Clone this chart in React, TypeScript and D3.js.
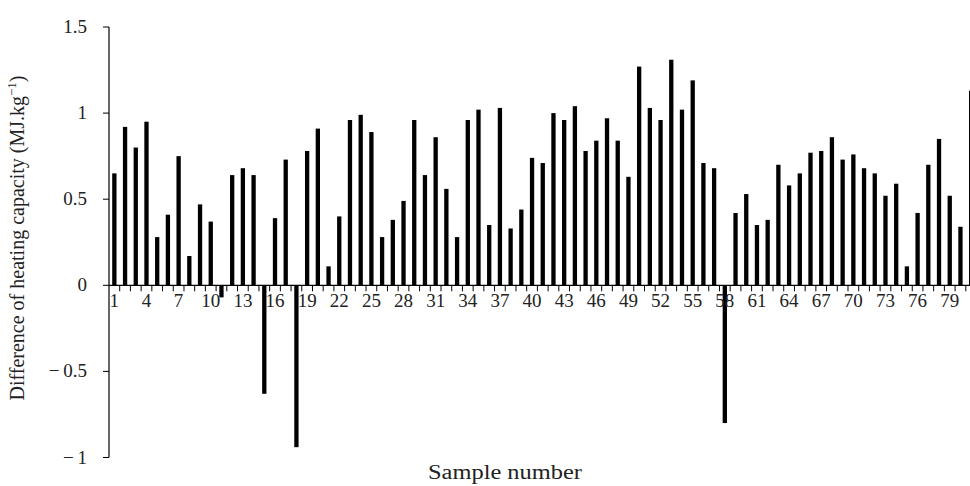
import React from 'react';
import { scaleBand, scaleLinear, range } from 'd3';

// heating capacity difference per sample (MJ/kg)
const sampleIds = range(1, 82);
const heatDiff = [
  0.65, 0.92, 0.8, 0.95, 0.28, 0.41, 0.75, 0.17, 0.47, 0.37,
  -0.07, 0.64, 0.68, 0.64, -0.63, 0.39, 0.73, -0.94, 0.78, 0.91,
  0.11, 0.4, 0.96, 0.99, 0.89, 0.28, 0.38, 0.49, 0.96, 0.64,
  0.86, 0.56, 0.28, 0.96, 1.02, 0.35, 1.03, 0.33, 0.44, 0.74,
  0.71, 1.0, 0.96, 1.04, 0.78, 0.84, 0.97, 0.84, 0.63, 1.27,
  1.03, 0.96, 1.31, 1.02, 1.19, 0.71, 0.68, -0.8, 0.42, 0.53,
  0.35, 0.38, 0.7, 0.58, 0.65, 0.77, 0.78, 0.86, 0.73, 0.76,
  0.68, 0.65, 0.52, 0.59, 0.11, 0.42, 0.7, 0.85, 0.52, 0.34,
  1.13,
];
const xTickLabels = range(1, 82, 3); // 1, 4, 7 ... 79
const yTicks = [-1, -0.5, 0, 0.5, 1, 1.5];

const W = 970;
const H = 486;
const FONT = '"Liberation Serif", "DejaVu Serif", serif';

function fmtY(v: number) {
  return v < 0 ? '\u2212\u2009' + String(-v) : String(v);
}

export default function App() {
  const x = scaleBand<number>()
    .domain(sampleIds)
    .range([109, 109 + 81 * 10.71]);
  const y = scaleLinear().domain([-1, 1.5]).range([457.5, 27]);
  const step = x.step();
  const barW = 4.3;
  const axisX = 109;

  return (
    <svg
      width={W}
      height={H}
      style={{ position: 'absolute', left: 0, top: 0, background: '#fff' }}
      fontFamily={FONT}
    >
      {/* bars */}
      {heatDiff.map((v, i) => {
        const cx = x(sampleIds[i])! + step / 2;
        return (
          <rect
            key={i}
            x={cx - barW / 2}
            y={Math.min(y(v), y(0))}
            width={barW}
            height={Math.abs(y(v) - y(0))}
            fill="#000"
          />
        );
      })}

      {/* x axis along zero, ticks at category boundaries */}
      <line x1={axisX} x2={W} y1={y(0)} y2={y(0)} stroke="#000" strokeWidth={1.2} />
      {sampleIds.map((d) => (
        <line
          key={d}
          x1={x(d)! + step}
          x2={x(d)! + step}
          y1={y(0)}
          y2={y(0) + 6}
          stroke="#000"
          strokeWidth={1}
        />
      ))}
      {xTickLabels.map((d) => (
        <text
          key={d}
          x={x(d)! + step / 2}
          y={y(0) + 22}
          textAnchor="middle"
          fontSize={19}
          fill="#222"
        >
          {d}
        </text>
      ))}

      {/* y axis */}
      <line x1={axisX} x2={axisX} y1={y(1.5)} y2={y(-1)} stroke="#000" strokeWidth={1.2} />
      {yTicks.map((t) => (
        <g key={t}>
          <line x1={axisX - 6} x2={axisX} y1={y(t)} y2={y(t)} stroke="#000" strokeWidth={1} />
          <text
            x={87}
            y={y(t)}
            dy="0.32em"
            textAnchor="end"
            fontSize={19}
            fill="#222"
          >
            {fmtY(t)}
          </text>
        </g>
      ))}

      {/* titles */}
      <text
        transform={`translate(24, 238) rotate(-90)`}
        textAnchor="middle"
        fontSize={20}
        fill="#222"
      >
        Difference of heating capacity (MJ.kg
        <tspan dy={-8} fontSize={13}>{'\u22121'}</tspan>
        <tspan dy={8}>)</tspan>
      </text>
      <text
        x={505}
        y={479}
        textAnchor="middle"
        fontSize={20}
        textLength={154}
        lengthAdjust="spacingAndGlyphs"
        fill="#222"
      >
        Sample number
      </text>
    </svg>
  );
}
